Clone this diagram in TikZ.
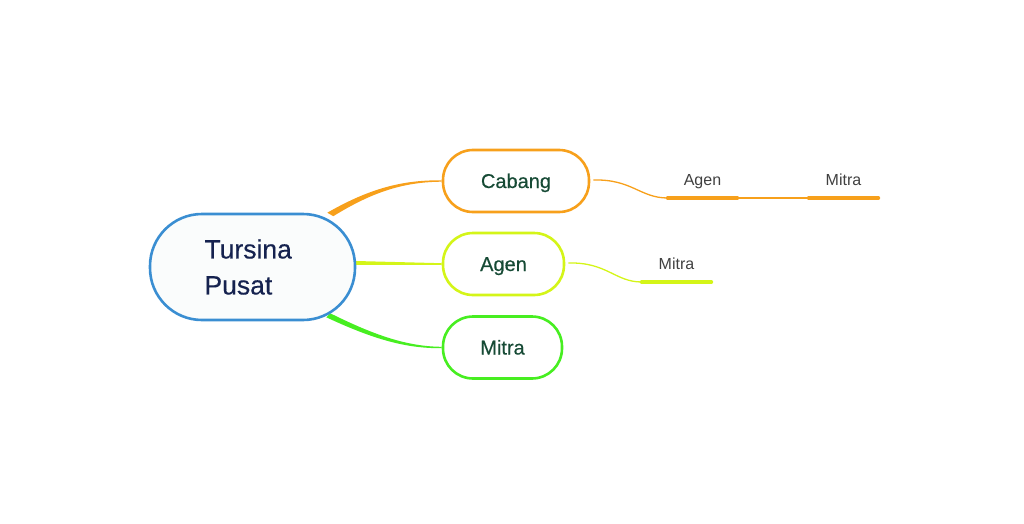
\documentclass[tikz,border=0pt]{standalone}
\usepackage{fontspec}
\setmainfont{Liberation Sans}
\newfontfamily\medfont[FakeBold=0.35]{Liberation Sans}
\usetikzlibrary{calc}
\pgfdeclarelayer{background}
\pgfsetlayers{background,main}
\definecolor{cOrange}{HTML}{F7A01B}
\definecolor{cYellow}{HTML}{D4F518}
\definecolor{cGreen}{HTML}{47EE21}
\definecolor{cBlue}{HTML}{3A8ED2}
\definecolor{cRootFill}{HTML}{FAFCFC}
\definecolor{cRootText}{HTML}{15224F}
\definecolor{cChildText}{HTML}{164A35}
\definecolor{cSubText}{HTML}{404040}
\tikzset{
  rootbox/.style={draw=cBlue, line width=2.6pt, fill=cRootFill, rounded corners=52pt,
    minimum width=205pt, minimum height=106pt, inner sep=0pt,
    text width=96pt, align=left, text=cRootText,
    font=\medfont\fontsize{26.5pt}{36pt}\selectfont},
  childbox/.style={line width=2.6pt, fill=white, rounded corners=30pt,
    minimum height=62pt, inner sep=0pt, text=cChildText,
    text height=16pt, text depth=2pt,
    font=\medfont\fontsize{20pt}{24pt}\selectfont},
  subnode/.style={anchor=south, minimum width=69pt, inner xsep=0pt, inner ysep=8pt,
    text height=12pt, text depth=4pt, text=cSubText,
    font=\fontsize{16pt}{19pt}\selectfont},
  underline/.style={line width=4pt, line cap=round},
  thinlink/.style={line width=1.3pt},
}
\begin{document}
\begin{tikzpicture}[x=1pt,y=-1pt]
\useasboundingbox (0,0) rectangle (1024,524);
% nodes
\node[rootbox] (root) at (252.5,267) {Tursina\\Pusat};
\node[childbox, draw=cOrange, minimum width=146pt] (cab) at (516,181) {Cabang};
\node[childbox, draw=cYellow, minimum width=121pt] (agen) at (503.5,264) {Agen};
\node[childbox, draw=cGreen, minimum width=119pt] (mitra) at (502.5,347.5) {Mitra};
\node[subnode] (cagen) at (702.5,198) {Agen};
\node[subnode] (cmitra) at (843.5,198) {Mitra};
\node[subnode] (amitra) at (676.5,282) {Mitra};
% main connectors (tapered), behind the nodes
\begin{pgfonlayer}{background}
\fill[cOrange] ($(root.north east)+(-29,0)$) .. controls (372,187) and (405,180) .. ($(cab.west)+(0,-0.7)$)
  -- ($(cab.west)+(0,0.7)$) .. controls (405,182) and (374,191) .. ($(root.north east)+(-23,3.5)$) -- cycle;
\fill[cYellow] ($(root.east)+(-8,-6.2)$) -- ($(agen.west)+(0,-0.8)$) -- ($(agen.west)+(0,0.8)$) -- ($(root.east)+(-8,-2.2)$) -- cycle;
\fill[cGreen] ($(root.south east)+(-26,-8)$) .. controls (376,336) and (408,346.5) .. ($(mitra.west)+(0,-0.7)$)
  -- ($(mitra.west)+(0,0.7)$) .. controls (406,348.5) and (374,339.5) .. ($(root.south east)+(-30,-4)$) -- cycle;
\end{pgfonlayer}
% sub connectors
\draw[thinlink, cOrange] ($(cab.east)+(3,-1)$) .. controls (632,179) and (640,198) .. (cagen.south west);
\draw[underline, cOrange] (cagen.south west) -- (cagen.south east);
\draw[thinlink, cOrange] (cagen.south east) -- (cmitra.south west);
\draw[underline, cOrange] (cmitra.south west) -- (cmitra.south east);
\draw[thinlink, cYellow] ($(agen.east)+(3,-1)$) .. controls (607,262) and (615,282) .. (amitra.south west);
\draw[underline, cYellow] (amitra.south west) -- (amitra.south east);
\end{tikzpicture}
\end{document}
